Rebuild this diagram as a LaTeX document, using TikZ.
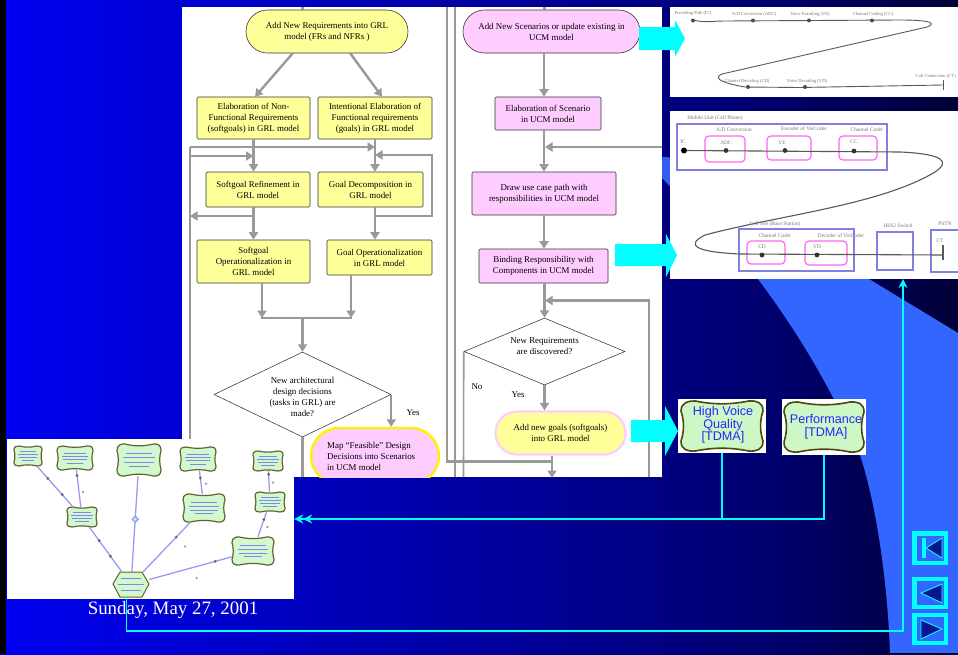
\documentclass[tikz,border=0pt]{standalone}
\usepackage{fontspec}
\setmainfont{Liberation Serif}
\setsansfont{Liberation Sans}
\usetikzlibrary{shapes.geometric,shapes.misc,arrows.meta,calc}
\definecolor{fy}{HTML}{FFFF99}
\definecolor{fp}{HTML}{FFCCFF}
\definecolor{flow}{HTML}{999999}
\definecolor{cy}{HTML}{00FFFF}
\definecolor{sky}{HTML}{3366FF}
\definecolor{sg}{HTML}{CDF7C5}
\definecolor{sgedge}{HTML}{4A4A10}
\definecolor{lav}{HTML}{9A9AF5}
\definecolor{compb}{HTML}{8080E0}
\definecolor{compp}{HTML}{FF66EE}
\definecolor{blur}{HTML}{777777}
\pgfdeclarehorizontalshading{slidebg}{100bp}{rgb(0bp)=(0,0,1);rgb(21bp)=(0,0,1);rgb(66bp)=(0,0,.42);rgb(84bp)=(0,0,0);rgb(100bp)=(0,0,0)}
\pgfdeclarehorizontalshading{swoosh}{100bp}{rgb(0bp)=(.13,.23,.62);rgb(5bp)=(.13,.23,.62);rgb(30bp)=(.2,.4,1);rgb(100bp)=(.2,.4,1)}
\tikzset{
  base/.style={font=\fontsize{8.9}{11}\selectfont,align=center,text=black,inner sep=0pt},
  rbox/.style={base,draw=black!80,line width=.6pt,rounded corners=1.2pt,fill=fy},
  pbox/.style={rbox,fill=fp},
  pill/.style={base,rounded rectangle,draw=black!80,line width=.6pt},
  dec/.style={diamond,draw=black!85,line width=.5pt,fill=white,inner sep=0pt},
  flowl/.style={draw=flow,line width=2.4pt},
  flowa/.style={flowl,-{Triangle[length=7.5pt,width=9pt]}},
  lbl/.style={font=\fontsize{8.9}{11}\selectfont,inner sep=0pt},
  cline/.style={draw=cy,line width=1.5pt},
  comp/.style={draw=compb,line width=1.2pt},
  resp/.style={draw=compp,line width=1.2pt,rounded corners=4pt},
  ucmp/.style={draw=black!65,line width=1pt},
  tiny/.style={font=\fontsize{4.6}{5}\selectfont,text=blur,inner sep=0pt},
  softanch/.style={inner sep=0pt},
  softstr/.style={draw=sgedge,fill=sg,line width=1.2pt,opacity=.85},
  softtxt/.style={draw=blue!75,line width=.8pt,opacity=.6},
  softlab/.style={font=\sffamily\fontsize{12.6}{12.7}\selectfont,text=blue!85,align=center,inner sep=0pt},
  gedge/.style={draw=lav,line width=1.3pt},
  gtick/.style={circle,fill=black!60,inner sep=1.1pt},
  gplus/.style={circle,fill=black!40,inner sep=.9pt},
  btn/.style={draw=cy,line width=4.5pt,fill=sky,inner sep=0pt,minimum width=31.5pt},
  btri/.style={draw=cy,line width=.9pt,fill=blue!45!black!80!sky}
}
\newcommand{\softpath}{(-1,-.6) .. controls (-1,-.95) and (-.8,-1.02) .. (-.65,-1) .. controls (-.2,-.85) and (.2,-.85) .. (.65,-1) .. controls (.85,-1.02) and (1,-.95) .. (1,-.6) .. controls (.92,-.2) and (.92,.2) .. (1,.6) .. controls (1,.95) and (.85,1.02) .. (.65,1) .. controls (.2,.85) and (-.2,.85) .. (-.65,1) .. controls (-.85,1.02) and (-1,.95) .. (-1,.6) .. controls (-.92,.2) and (-.92,-.2) .. cycle}
\newcommand{\softg}[5]{%
  \begin{scope}[shift={(#2,#3)},xscale=#4,yscale=#5]
    \path[softstr] \softpath;
    \draw[softtxt] (-.6,-.42)--(.6,-.42) (-.72,-.14)--(.72,-.14) (-.66,.14)--(.66,.14) (-.45,.42)--(.45,.42);
  \end{scope}
  \node[softanch,minimum width=2*#4,minimum height=2*#5] (#1) at (#2,#3) {};}
\begin{document}
\begin{tikzpicture}[x=1pt,y=-1pt]
\useasboundingbox (0,0) rectangle (958,654);
% slide background
\shade[shading=slidebg] (0,0) rectangle (958,654);
\fill[black] (0,0) rectangle (6,654);
\shade[shading=swoosh] (662,178) -- (758,279) .. controls (800,335) and (835,395) .. (860,455) .. controls (878,510) and (888,590) .. (890,654) -- (958,654) -- (958,333) -- (668,157) -- (662,157) -- cycle;
\fill[black] (890,653) rectangle (958,654);
% white flowchart panel
\fill[white] (182,7) rectangle (662,477);
\begin{scope}
\clip (182,7) rectangle (662,477);
% GRL column nodes
\node[pill,fill=fy,minimum width=162pt,minimum height=43pt] (addreq) at (327,31.5) {Add New Requirements into GRL\\model (FRs and NFRs )};
\node[rbox,minimum width=113pt,minimum height=42pt] (elabnf) at (253.5,118) {Elaboration of Non-\\Functional Requirements\\(softgoals) in GRL model};
\node[rbox,minimum width=114pt,minimum height=42pt] (elabf) at (375,118) {Intentional Elaboration of\\Functional requirements\\(goals) in GRL model};
\node[rbox,minimum width=104pt,minimum height=35pt] (refine) at (258,189.5) {Softgoal Refinement in\\GRL model};
\node[rbox,minimum width=105pt,minimum height=35pt] (decomp) at (370.5,189.5) {Goal Decomposition in\\GRL model};
\node[rbox,minimum width=113pt,minimum height=43pt] (sop) at (253.5,261.5) {Softgoal\\Operationalization in\\GRL model};
\node[rbox,minimum width=105pt,minimum height=35pt] (gop) at (379.5,257.5) {Goal Operationalization\\in GRL model};
\node[dec,minimum width=177pt,minimum height=85pt,label={[base,yshift=-2pt]center:New architectural\\design decisions\\(tasks in GRL) are\\made?}] (dec1) at (302.5,394.5) {};
\node[pill,fill=fp,draw=yellow,line width=2.4pt,minimum width=128pt,minimum height=56pt] (mapn) at (375,456) {};
\node[base,align=left,anchor=west] (maptxt) at (327,456.5) {Map “Feasible” Design\\Decisions into Scenarios\\in UCM model};
\node[lbl] (yes1) at (413,412.5) {Yes};
\coordinate (join) at (302.5,318);
\coordinate (fbl) at (190,147);
\coordinate (fbr) at (432,216);
% UCM column nodes
\node[pill,fill=fp,minimum width=177pt,minimum height=43pt] (addscen) at (551.5,31.5) {Add New Scenarios or update existing in\\UCM model};
\node[pbox,minimum width=106pt,minimum height=33pt] (elabs) at (548,113.5) {Elaboration of Scenario\\in UCM model};
\node[pbox,minimum width=144pt,minimum height=43pt] (drawp) at (544,193.5) {Draw use case path with\\responsibilities in UCM model};
\node[pbox,minimum width=129pt,minimum height=34pt] (bind) at (543.5,266) {Binding Responsibility with\\Components in UCM model};
\node[dec,minimum width=161pt,minimum height=67pt,label={[base,yshift=5pt]center:New Requirements\\are discovered?}] (dec2) at (544.5,351.5) {};
\node[pill,fill=fy,draw=fp,line width=2.2pt,minimum width=130pt,minimum height=43pt] (addg) at (560.5,433) {Add new goals (softgoals)\\into GRL model};
\node[lbl] (no1) at (477,387) {No};
\node[lbl] (yes2) at (518,395) {Yes};
% GRL connectors
\draw[flowl] (302.5,7) -- (addreq.north -| 302.5,0);
\draw[flowa] (293,53) -- (elabnf.north -| 255,0);
\draw[flowa] (350,53) -- (elabf.north -| 382,0);
\draw[flowa] (elabnf.south) -- (elabnf.south |- refine.north);
\draw[flowa] (elabf.south) -- (elabf.south |- decomp.north);
\draw[flowa] (refine.south -| elabnf.south) -- (elabnf.south |- sop.north);
\draw[flowa] (decomp.south -| elabf.south) -- (elabf.south |- gop.north);
\draw[flowa] (fbl) -- (fbl -| elabf.south);
\draw[flowa] (190,156) -- (elabnf.south |- 0,156);
\draw[flowl] (fbl) -- (190,477);
\draw[flowa] (elabnf.south |- fbr) -- (190,216);
\draw[flowa] (elabf.south |- fbr) -- (fbr) -- (432,155) -- (elabf.south |- 0,155);
\draw[flowa] (sop.south -| 262,0) -- (262,318);
\draw[flowa] (gop.south -| 351,0) -- (351,318);
\draw[flowl] (261,318) -- (352,318);
\draw[flowa] (join) -- (dec1.north);
\draw[flowa] (dec1.east) -- (mapn.north -| dec1.east);
\draw[flowl] (dec1.south) -- (302.5,477);
% UCM connectors
\draw[flowl] (544.5,7) -- (544.5,10);
\draw[flowa] (addscen.south -| 544,0) -- (elabs.north -| 544,0);
\draw[flowa] (elabs.south -| 544,0) -- (drawp.north -| 544,0);
\draw[flowa] (drawp.south) -- (bind.north -| drawp.south);
\draw[flowa] (bind.south -| 544.5,0) -- (dec2.north);
\draw[flowa] (662,147) -- (545,147);
\draw[flowa] (649,477) -- (649,300.5) -- (545,300.5);
\draw[flowa] (dec2.south) -- (dec2.south |- addg.north);
\draw[flowa] (addg.south -| 552,0) -- (552,478);
\draw[draw=flow,line width=1.6pt] (dec2.west) -- (463.5,477);
\draw[flowl] (447,7) -- (447,461.5) -- (552,461.5);
\draw[flowl] (455,7) -- (455,477);
\end{scope}
% UCM image 1
\node[fill=white,minimum width=288pt,minimum height=90pt,inner sep=0pt] (ucma) at (814,52) {};
\draw[ucmp,line width=.9pt] (693,20) .. controls (705,23) and (712,21) .. (725,21) -- (900,20) .. controls (935,20) and (935,24) .. (927,27) -- (722,74) .. controls (715,77) and (716,82) .. (745,87) -- (800,87.5) -- (943,85);
\draw[ucmp] (943,80) -- (943,90);
\foreach \px in {693,753,809,872} {\fill[black!70] (\px,20.5) circle (2pt);}
\foreach \px in {748,805} {\fill[black!70] (\px,87) circle (2pt);}
\node[tiny] (t1) at (693,13.5) {Preceding Path (IC)};
\node[tiny] (t2) at (754,14.5) {A/D Conversion (ADC)};
\node[tiny] (t3) at (810,14.5) {Voice Encoding (VE)};
\node[tiny] (t4) at (873,14) {Channel Coding (CC)};
\node[tiny] (t5) at (747,81) {Channel Decoding (CD)};
\node[tiny] (t6) at (807,81) {Voice Decoding (VD)};
\node[tiny,anchor=east] (t7) at (956,76) {Call Connection (CT)};
% UCM image 2
\node[fill=white,minimum width=288pt,minimum height=168pt,inner sep=0pt] (ucmb) at (814,195) {};
\node[comp,minimum width=210pt,minimum height=46pt,inner sep=0pt] (mobile) at (782,147) {};
\node[resp,minimum width=40pt,minimum height=26pt,inner sep=0pt] (adc) at (725,149) {};
\node[resp,minimum width=44pt,minimum height=24pt,inner sep=0pt] (ve) at (789,148) {};
\node[resp,minimum width=38pt,minimum height=24pt,inner sep=0pt] (cc) at (858,148) {};
\node[comp,minimum width=115pt,minimum height=42pt,inner sep=0pt] (cell) at (796.5,250) {};
\node[resp,minimum width=38pt,minimum height=23pt,inner sep=0pt] (cd) at (766,252.5) {};
\node[resp,minimum width=42pt,minimum height=24pt,inner sep=0pt] (vd) at (826,253) {};
\node[comp,minimum width=36pt,minimum height=38pt,inner sep=0pt] (hss) at (895,251) {};
\draw[comp] (958,230) -- (931,230) -- (931,272) -- (958,272);
\coordinate (pstn) at (944,251);
\draw[ucmp,line width=1.1pt] (684,150.5) -- (900,152) .. controls (945,154) and (950,162) .. (935,172) .. controls (880,205) and (780,215) .. (705,235) .. controls (685,245) and (695,252) .. (740,254) -- (943,255);
\draw[ucmp,line width=1.6pt] (943,245) -- (943,260);
\fill[black] (684,150.5) circle (3pt);
\foreach \px/\py in {726/150.5,785/150.5,854/151,762/255,817/255} {\fill[black!80] (\px,\py) circle (2.4pt);}
\node[tiny,font=\fontsize{5.4}{6}\selectfont] (m0) at (715,118) {Mobile Unit (Cell Phone)};
\node[tiny,font=\fontsize{5.4}{6}\selectfont] (m1) at (734,130) {A/D Conversion};
\node[tiny,font=\fontsize{5.4}{6}\selectfont] (m2) at (804,129) {Encoder of VoiCoder};
\node[tiny,font=\fontsize{5.4}{6}\selectfont] (m3) at (867,130) {Channel Coder};
\node[tiny,font=\fontsize{5.4}{6}\selectfont] (m4) at (683,142) {IC};
\node[tiny,font=\fontsize{5.4}{6}\selectfont] (m5) at (726,143) {ADC};
\node[tiny,font=\fontsize{5.4}{6}\selectfont] (m6) at (782,143) {VE};
\node[tiny,font=\fontsize{5.4}{6}\selectfont] (m7) at (854,142) {CC};
\node[tiny,font=\fontsize{5.4}{6}\selectfont] (m8) at (775,224) {Cell Site (Base Station)};
\node[tiny,font=\fontsize{5.4}{6}\selectfont] (m9) at (775,236) {Channel Coder};
\node[tiny,font=\fontsize{5.4}{6}\selectfont] (m10) at (841,236) {Decoder of VoiCoder};
\node[tiny,font=\fontsize{5.4}{6}\selectfont] (m11) at (898,226) {HSS2 Switch};
\node[tiny,font=\fontsize{5.4}{6}\selectfont] (m12) at (945,224) {PSTN};
\node[tiny,font=\fontsize{5.4}{6}\selectfont] (m13) at (762,247) {CD};
\node[tiny,font=\fontsize{5.4}{6}\selectfont] (m14) at (817,247) {VD};
\node[tiny,font=\fontsize{5.4}{6}\selectfont] (m15) at (940,241) {CT};
% block arrows
\fill[cy] (639,27) -- (675,27) -- (675,20) -- (685,38.5) -- (675,57) -- (675,50) -- (639,50) -- cycle;
\fill[cy] (615,244) -- (666,244) -- (666,234) -- (677,255) -- (666,277) -- (666,266) -- (615,266) -- cycle;
% softgoal cards
\node[fill=white,minimum width=88pt,minimum height=54pt,inner sep=0pt] (hvcard) at (722,426) {};
\fill[cy] (631,420) -- (665,420) -- (665,406) -- (678,431) -- (665,456) -- (665,442) -- (631,442) -- cycle;
\begin{scope}[shift={(722,426)},xscale=41,yscale=25]
\path[draw=sgedge,fill=sg,line width=1.6pt] \softpath;
\end{scope}
\node[softlab] (hvq) at (723,425) {High Voice\\Quality\\{[TDMA]}};
\node[fill=white,minimum width=84pt,minimum height=56pt,inner sep=0pt] (pfcard) at (824,427) {};
\begin{scope}[shift={(824,427)},xscale=40,yscale=25]
\path[draw=sgedge,fill=sg,line width=1.6pt] \softpath;
\end{scope}
\node[softlab] (pf) at (826,427) {Performance\\{[TDMA]}};
% GRL picture inset
\node[fill=white,minimum width=287pt,minimum height=160pt,inner sep=0pt] (inset) at (150.5,519) {};
\softg{ga}{28}{456}{14}{10}
\softg{gb}{75}{458}{18}{12}
\softg{gc}{139}{460}{22}{16}
\softg{gd}{198}{459}{18}{12}
\softg{ge}{268}{461}{15}{10}
\softg{gf}{82}{517}{15}{10}
\softg{gg}{204}{508}{21}{14}
\softg{gh}{270}{502}{15}{10}
\softg{gi}{253}{551}{21}{14}
\path[softstr,line width=1pt] (120,572) -- (142,572) -- (149,584) -- (142,597) -- (120,597) -- (113,584) -- cycle;
\draw[softtxt] (121,578)--(141,578) (118,584)--(144,584) (121,590)--(141,590);
\node[softanch,minimum width=36pt,minimum height=25pt] (gj) at (131,584.5) {};
\draw[gedge] (gf) -- (ga) node[pos=.3,gtick]{} node[pos=.7,gtick]{};
\draw[gedge] (gf) -- (gb) node[pos=.85,gtick]{} node[pos=.4,gplus,xshift=4pt]{};
\draw[gedge] (gj) -- (gf) node[pos=.35,gtick]{} node[pos=.7,gtick]{};
\draw[gedge] (gj) -- (gc) node[pos=.55,diamond,fill=sg,draw=lav,inner sep=1.6pt]{};
\draw[gedge] (gj) -- (gg) node[pos=.7,gtick]{} node[pos=.55,gplus,xshift=16pt,yshift=-2pt]{};
\draw[gedge] (gj) -- (gi) node[pos=.8,gtick]{} node[pos=.55,gplus,xshift=2pt,yshift=-11pt]{};
\draw[gedge] (gg) -- (gd) node[pos=.7,gtick]{} node[pos=.45,gplus,xshift=5pt]{};
\draw[gedge] (gi) -- (gh) node[pos=.7,gtick]{} node[pos=.4,gplus,xshift=6pt]{};
\draw[gedge] (gh) -- (ge) node[pos=.85,gtick]{} node[pos=.45,gplus,xshift=4pt]{};
% date
\node[font=\fontsize{18.9}{20}\selectfont,text=white,inner sep=0pt] (date) at (173,610) {Sunday, May 27, 2001};
% cyan links
\coordinate (hub) at (722,519);
\draw[cline] (hvcard.south) -- (hub);
\draw[cline,-{Stealth[length=9pt,width=9pt]Stealth[length=9pt,width=9pt]}] (pfcard.south) -- (pfcard.south |- hub) -- (inset.east |- hub);
\draw[cline,-{Stealth[length=9pt,width=9pt]}] (gj.south -| 126.5,0) -- (126.5,631) -- (903,631) -- (903,279);
% nav buttons
\node[btn,minimum height=29.5pt] (b1) at (930,548) {};
\node[btn,minimum height=28pt] (b2) at (930,593) {};
\node[btn,minimum height=28pt] (b3) at (930,629) {};
\fill[cy] (922,538) rectangle (926,558);
\path[btri] (942,538) -- (926,548) -- (942,558) -- cycle;
\path[btri] (942,584) -- (921,593) -- (942,603) -- cycle;
\path[btri] (921,620) -- (942,629) -- (921,639) -- cycle;
\end{tikzpicture}
\end{document}
